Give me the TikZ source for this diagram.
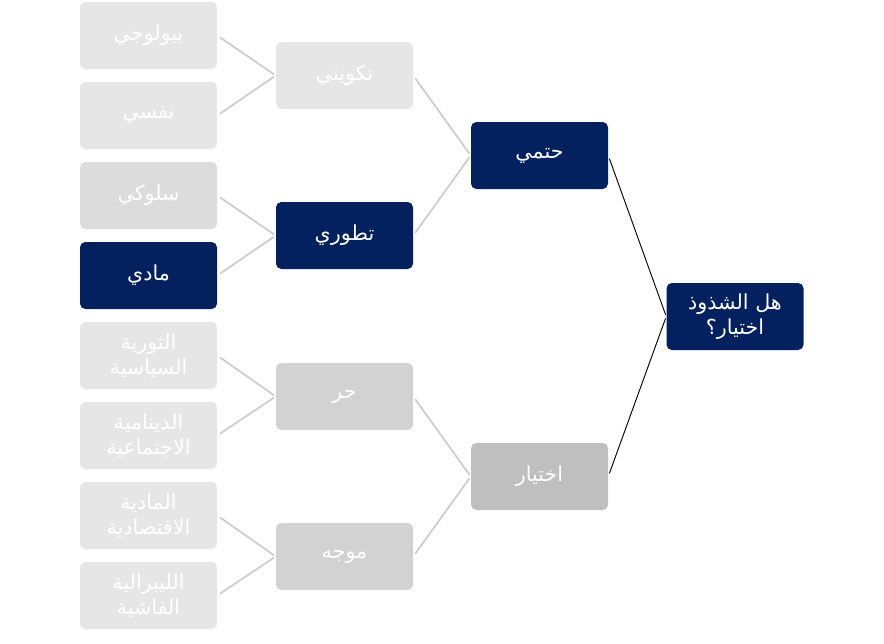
\documentclass[tikz,border=0pt]{standalone}
\usepackage{fontspec}
\newfontfamily\arabicfont[Script=Arabic]{DejaVu Sans}
\TeXXeTstate=1
\usepackage{tikz}
\usetikzlibrary{positioning}
\definecolor{navy}{RGB}{2, 33, 94}
\definecolor{pale}{RGB}{230, 230, 230}
\definecolor{pale2}{RGB}{220, 220, 220}
\definecolor{mid}{RGB}{210, 210, 210}
\definecolor{dark}{RGB}{191, 191, 191}
\definecolor{linegray}{RGB}{204, 204, 204}
\newcommand\artext[1]{\beginR #1\endR}

\begin{document}
\begin{tikzpicture}[x=0.75pt, y=-0.75pt,
  box/.style={rounded corners=4pt, minimum width=102.75pt, minimum height=50.25pt, inner sep=1pt,
    text=white, align=center, font=\arabicfont\fontsize{15.5}{19}\selectfont},
  lnk/.style={linegray, line width=1.3pt, shorten <=2.5pt, shorten >=1.5pt},
  rootlnk/.style={black, line width=0.7pt, shorten <=2.5pt, shorten >=1.5pt}
]
  \useasboundingbox (0,0) rectangle (884,643);
  % leaves
  \node[box, fill=pale] (bio) at (148.5, 35.5) {\artext{بيولوجي}};
  \node[box, fill=pale] (nafsi) at (148.5, 115.5) {\artext{نفسي}};
  \node[box, fill=pale2] (suluki) at (148.5, 195.5) {\artext{سلوكي}};
  \node[box, fill=navy] (madi) at (148.5, 275.5) {\artext{مادي}};
  \node[box, fill=pale] (thawria) at (148.5, 355.5) {\artext{الثورية}\\\artext{السياسية}};
  \node[box, fill=pale] (dinamia) at (148.5, 435.5) {\artext{الدينامية}\\\artext{الاجتماعية}};
  \node[box, fill=pale] (madia) at (148.5, 515.5) {\artext{المادية}\\\artext{الاقتصادية}};
  \node[box, fill=pale] (libra) at (148.5, 595.5) {\artext{الليبرالية}\\\artext{الفاشية}};
  % middle
  \node[box, fill=pale] (takwini) at (344.5, 75.5) {\artext{تكويني}};
  \node[box, fill=navy] (tatawuri) at (344.5, 235.5) {\artext{تطوري}};
  \node[box, fill=mid] (hurr) at (344.5, 396.5) {\artext{حر}};
  \node[box, fill=mid] (muwajjah) at (344.5, 556.5) {\artext{موجه}};
  \node[box, fill=navy] (hatmi) at (539.5, 155.5) {\artext{حتمي}};
  \node[box, fill=dark] (ikhtiyar) at (539.5, 476.5) {\artext{اختيار}};
  % root
  \node[box, fill=navy] (q) at (735, 316.5) {\artext{هل الشذوذ}\\\artext{اختيار؟}};

  \draw[lnk] (bio.east) -- (takwini.west);
  \draw[lnk] (nafsi.east) -- (takwini.west);
  \draw[lnk] (suluki.east) -- (tatawuri.west);
  \draw[lnk] (madi.east) -- (tatawuri.west);
  \draw[lnk] (thawria.east) -- (hurr.west);
  \draw[lnk] (dinamia.east) -- (hurr.west);
  \draw[lnk] (madia.east) -- (muwajjah.west);
  \draw[lnk] (libra.east) -- (muwajjah.west);
  \draw[lnk] (takwini.east) -- (hatmi.west);
  \draw[lnk] (tatawuri.east) -- (hatmi.west);
  \draw[lnk] (hurr.east) -- (ikhtiyar.west);
  \draw[lnk] (muwajjah.east) -- (ikhtiyar.west);
  \draw[rootlnk] (hatmi.east) -- (q.west);
  \draw[rootlnk] (ikhtiyar.east) -- (q.west);
\end{tikzpicture}
\end{document}
